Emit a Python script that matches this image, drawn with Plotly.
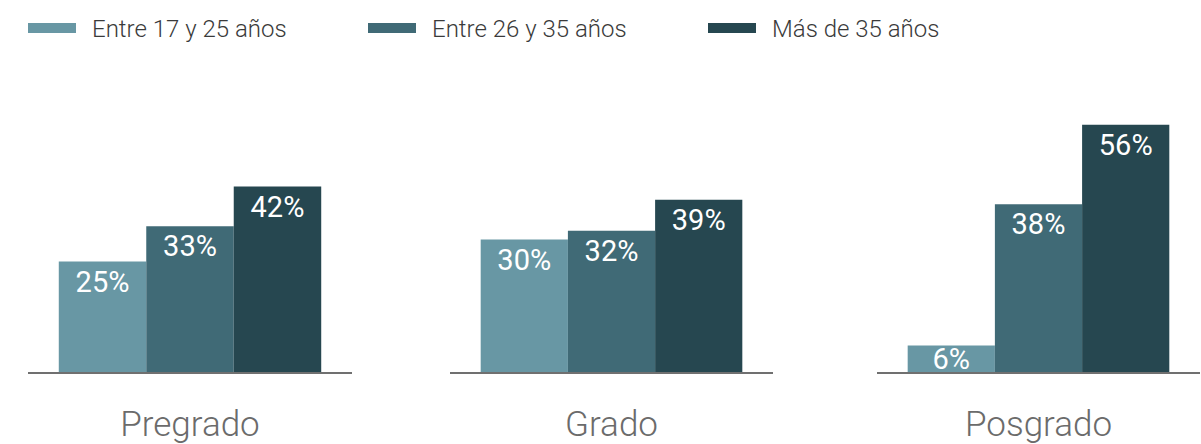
import plotly.graph_objects as go

categories = ["Pregrado", "Grado", "Posgrado"]
series_names = ["Entre 17 y 25 años", "Entre 26 y 35 años", "Más de 35 años"]
values_17_25 = [25, 30, 6]
values_26_35 = [33, 32, 38]
values_35_plus = [42, 39, 56]
series_values = [values_17_25, values_26_35, values_35_plus]
colors = ["#6897A4", "#406A76", "#264750"]

W, H = 1201, 444
domains = [(28 / W, 352 / W), (450 / W, 773 / W), (877 / W, 1200 / W)]

fig = go.Figure()

for ci, cat in enumerate(categories):
    xa = "x" if ci == 0 else f"x{ci+1}"
    ya = "y" if ci == 0 else f"y{ci+1}"
    for si, name in enumerate(series_names):
        v = series_values[si][ci]
        fig.add_trace(go.Bar(
            x=[cat], y=[v], name=name, xaxis=xa, yaxis=ya,
            marker=dict(color=colors[si], line=dict(width=0)),
            text=[f"{v}%"], textposition="inside",
            insidetextanchor="end" if v >= 10 else "middle",
            textangle=0, constraintext="none", cliponaxis=False,
            textfont=dict(family="Roboto", size=29, color="white"),
            showlegend=False, hoverinfo="skip",
        ))

# legend entries
for si, name in enumerate(series_names):
    fig.add_trace(go.Scatter(
        x=[None], y=[None], mode="lines", name=name,
        line=dict(color=colors[si], width=16, dash="48px,200px"),
        showlegend=True, hoverinfo="skip",
    ))

layout = dict(
    width=W, height=H,
    margin=dict(l=0, r=0, t=107, b=72, autoexpand=False),
    paper_bgcolor="white", plot_bgcolor="white",
    barmode="group", bargap=0.19, bargroupgap=0,
    showlegend=True,
    legend=dict(
        orientation="h", x=23 / W, xanchor="left",
        y=1 - 6 / H, yref="container", yanchor="top",
        entrywidth=266, entrywidthmode="pixels", itemwidth=59,
        font=dict(family="Roboto", size=24, color="#3a3a3a", weight=300),
        itemclick=False, itemdoubleclick=False,
    ),
)
for ci in range(3):
    xk = "xaxis" if ci == 0 else f"xaxis{ci+1}"
    yk = "yaxis" if ci == 0 else f"yaxis{ci+1}"
    anchor_y = "y" if ci == 0 else f"y{ci+1}"
    anchor_x = "x" if ci == 0 else f"x{ci+1}"
    layout[xk] = dict(
        domain=list(domains[ci]), anchor=anchor_y, type="category",
        range=[-0.5, 0.5], showline=True, linecolor="#707070", linewidth=2,
        showgrid=False, zeroline=False, ticks="", automargin=False,
        ticklabelstandoff=20,
        tickfont=dict(family="Roboto", size=35, color="#6b6b6b", weight=300),
        fixedrange=True,
    )
    layout[yk] = dict(
        domain=[0, 1], anchor=anchor_x, range=[0, 60], automargin=False,
        visible=False, showgrid=False, zeroline=False, fixedrange=True,
    )

fig.update_layout(**layout)
fig.write_html("out.html", config={"displayModeBar": False},
               post_script="document.body.style.margin='0';")
